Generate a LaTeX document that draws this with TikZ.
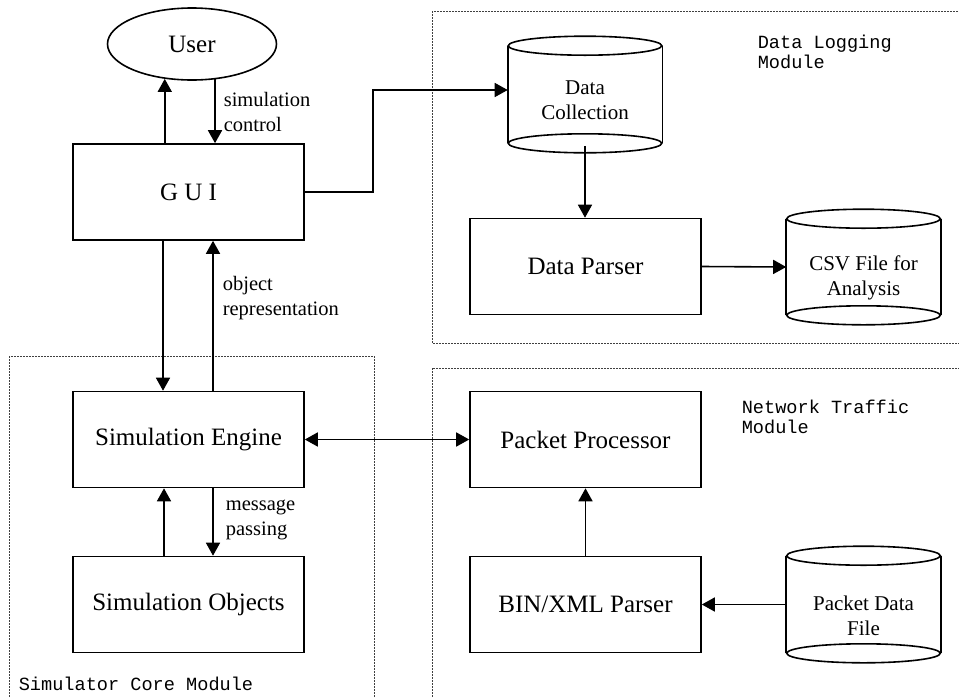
\documentclass[tikz,border=0pt]{standalone}
\usepackage{fontspec}
\setmainfont{Liberation Serif}
\setmonofont{Liberation Mono}
\usetikzlibrary{arrows.meta,calc,shapes.geometric}
\begin{document}
\begin{tikzpicture}[x=1pt,y=-1pt,
  line width=1.6pt,
  arr/.style={-{Triangle[length=13pt,width=14pt]}},
  darr/.style={{Triangle[length=13pt,width=14pt]}-{Triangle[length=13pt,width=14pt]}},
  blk/.style={draw, rectangle, minimum width=231pt, minimum height=96pt, inner sep=0pt, font=\fontsize{25}{30}\selectfont},
  cylbody/.style={rectangle, minimum width=153pt, inner sep=0pt},
  cyltxt/.style={rectangle, inner sep=0pt, align=center, font=\fontsize{21}{25}\selectfont},
  lbl/.style={anchor=west, align=left, inner sep=0pt, font=\fontsize{20.5}{25}\selectfont},
  modlbl/.style={anchor=north west, align=left, inner sep=0pt, font=\fontsize{18.6}{20}\selectfont\ttfamily},
  module/.style={draw=black!75, line width=0.8pt, dash pattern=on 1.6pt off 1.4pt},
]
\useasboundingbox (0,0) rectangle (959,697);
\newcommand\cylframe[1]{%
  \draw ($(#1.north west)+(0,9.5)$) -- ($(#1.south west)+(0,-9.5)$);
  \draw ($(#1.north east)+(0,9.5)$) -- ($(#1.south east)+(0,-9.5)$);
  \draw ($(#1.north)+(0,9.5)$) ellipse [x radius=76.75pt, y radius=9.5pt];
  \draw ($(#1.south)+(0,-9.5)$) ellipse [x radius=76.75pt, y radius=9.5pt];}

% module frames
\begin{scope}
  \clip (0,0) rectangle (959,697);
  \draw[module] (432,11) rectangle (975,343);
  \draw[module] (9,356) rectangle (374,710);
  \draw[module] (432,368) rectangle (975,710);
\end{scope}

% nodes
\node[draw, ellipse, minimum width=169pt, minimum height=72pt, inner sep=0pt,
      font=\fontsize{25}{30}\selectfont] (user) at (192,44) {User};
\node[blk] (gui) at (188.5,192) {G U I};
\node[blk] (eng) at (188.5,439.5) {Simulation Engine};
\node[blk] (obj) at (188.5,604.5) {Simulation Objects};
\node[blk] (dp)  at (585.5,266.5) {Data Parser};
\node[blk] (pp)  at (585.5,439.5) {Packet Processor};
\node[blk] (bin) at (585.5,604.5) {BIN/XML Parser};

\node[cylbody, minimum height=115pt] (dc) at (585,94.5) {};
\cylframe{dc}
\node[cyltxt] (dctxt) at ($(dc)+(0,6)$) {Data\\Collection};

\node[cylbody, minimum height=114pt] (csv) at (863.5,267) {};
\cylframe{csv}
\node[cyltxt] (csvtxt) at ($(csv)+(0,11)$) {CSV File for\\Analysis};

\node[cylbody, minimum height=115pt] (pdf) at (863.5,604.5) {};
\cylframe{pdf}
\node[cyltxt] (pdftxt) at ($(pdf)+(0,11)$) {Packet Data\\File};

% labels
\node[lbl] (simctl) at (223,112) {simulation\\control};
\node[lbl] (objrep) at (222,298) {object\\representation};
\node[lbl] (msg)    at (225,520) {message\\passing};
\node[modlbl] (dlm) at (757,34) {Data Logging\\Module};
\node[modlbl] (ntm) at (741,399) {Network Traffic\\Module};
\node[modlbl] (scm) at (18,676) {Simulator Core Module};

% connectors
\draw[arr] (gui.north -| user.232.8) -- (user.232.8);
\draw[arr] (user.303.6) -- (user.303.6 |- gui.north);
\draw[arr] (gui.east) -- ++(68,0) |- ([yshift=4.5pt]dc.west);
\draw[arr] ([yshift=7pt]dc.south) -- (dp.north -| dc.south);
\draw[arr] (dp.east) -- (csv.west);
\draw[arr] ([xshift=-25.5pt]gui.south) -- ([xshift=-25.5pt]eng.north);
\draw[arr] ([xshift=24.5pt]eng.north) -- ([xshift=24.5pt]gui.south);
\draw[darr] (eng.east) -- (pp.west);
\draw[arr] ([xshift=-24.5pt]obj.north) -- ([xshift=-24.5pt]eng.south);
\draw[arr] ([xshift=24.5pt]eng.south) -- ([xshift=24.5pt]obj.north);
\draw[arr] (bin.north) -- (pp.south);
\draw[arr] (pdf.west) -- (bin.east);
\end{tikzpicture}
\end{document}
